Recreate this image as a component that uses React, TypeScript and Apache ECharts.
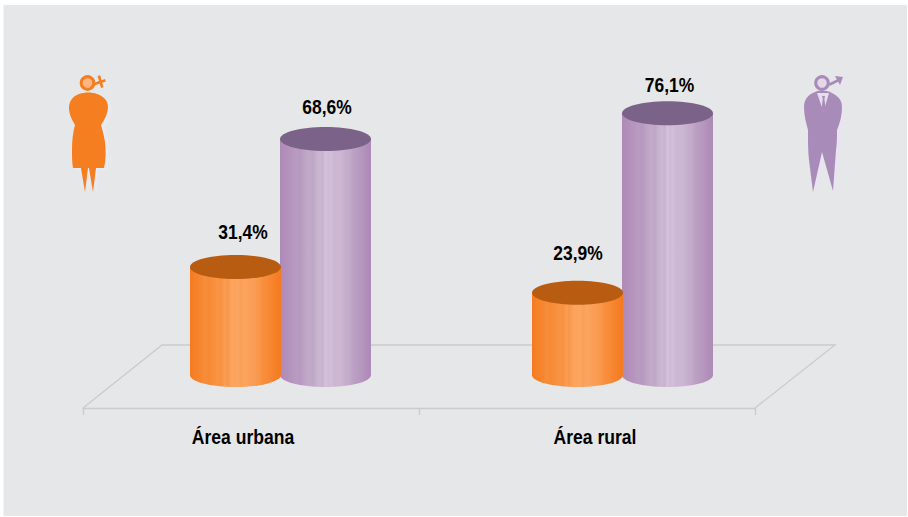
import React, { useEffect, useRef } from "react";
import * as echarts from "echarts";

const categories = ["Área urbana", "Área rural"];
const womenValues = [31.4, 23.9];
const menValues = [68.6, 76.1];
const womenLabels = ["31,4%", "23,9%"];
const menLabels = ["68,6%", "76,1%"];

const FONT = '"Liberation Sans", Arial, sans-serif';
const RX = 45.5;
const RY = 12;

const orangeStops = [
  [0, "#f47a1f"], [0.06, "#f5822a"], [0.12, "#f68630"], [0.16, "#f78d3a"], [0.2, "#f68a35"], [0.26, "#f78f3d"],
  [0.3, "#f89444"], [0.34, "#f89141"], [0.38, "#fa9d52"], [0.41, "#f9964a"], [0.44, "#fb9f56"], [0.47, "#fca560"],
  [0.5, "#fba35c"], [0.53, "#fca662"], [0.56, "#fa9e55"], [0.6, "#fba45e"], [0.66, "#fb9f58"], [0.7, "#fa9d56"],
  [0.76, "#f99748"], [0.8, "#f88f3e"], [0.86, "#f78a35"], [0.92, "#f6822a"], [1, "#f47a1f"],
];
const purpleStops = [
  [0, "#ae8bb7"], [0.06, "#b28fbb"], [0.12, "#b594bd"], [0.18, "#b99bc1"], [0.22, "#b798bf"], [0.28, "#bea5c6"],
  [0.32, "#c2abc9"], [0.36, "#bfa6c7"], [0.4, "#c7b2ce"], [0.44, "#cbb8d2"], [0.47, "#c8b3cf"], [0.5, "#d4c1da"],
  [0.53, "#cfbbd5"], [0.56, "#d2bed8"], [0.6, "#ccb6d2"], [0.66, "#cdb8d3"], [0.72, "#c5afcc"], [0.77, "#c2aac9"],
  [0.8, "#bca1c4"], [0.84, "#b99dc1"], [0.9, "#b596be"], [0.95, "#b08eb9"], [1, "#ae8bb7"],
];

const womanBody =
  "M79 94C73 96 69 101 69 108C69 114 72 120 75 125C73 132 72 140 72 150C72 157 72 163 73 168L81 168L85 192L88 168L89 168L93 192L96 168L104 168C106 160 106 150 105 142C104 135 102 129 101 125C105 119 108 113 108 107C108 100 103 96 97 94C92 92 85 92 79 94Z";
const manBody =
  "M815 92C809 94 804 99 804 107C804 115 806 123 808 130C808 142 808 150 809 160L813 192L822 152L833 191L836 150C837 143 837 137 837 130C840 123 842 115 842 107C842 100 838 96 832 93C826 90 820 90 815 92Z";
const manShirt = "M817 93L829 93L823.5 112Z";
const manTie = "M822 96L825 96L824.4 99L825.6 108L823.5 112L821.6 108L822.8 99Z";
const womanSymbol = "M92.5 83.5L99 81L97.6 76L100.2 75.3L101.5 80.2L105 79L105.8 81.4L102.2 82.7L103.6 87.2L101 87.9L99.7 83.5L93.5 86Z";
const manSymbol = "M828.5 83.5L836.8 79.6L835 76L843 77L840 85L838.2 81.8L829.8 86Z";

echarts.graphic.registerShape("womanBody", echarts.graphic.extendPath(womanBody, {}));
echarts.graphic.registerShape("manBody", echarts.graphic.extendPath(manBody, {}));
echarts.graphic.registerShape("manShirt", echarts.graphic.extendPath(manShirt, {}));
echarts.graphic.registerShape("manTie", echarts.graphic.extendPath(manTie, {}));
echarts.graphic.registerShape("womanSymbol", echarts.graphic.extendPath(womanSymbol, {}));
echarts.graphic.registerShape("manSymbol", echarts.graphic.extendPath(manSymbol, {}));

function cylinder(
  params: any,
  api: any,
  dx: number,
  stops: number[][],
  topColor: string,
  labels: string[],
  labelOffsets: number[][],
) {
  const i = params.dataIndex;
  const top = api.coord([api.value(0), api.value(1)]);
  const base = api.coord([api.value(0), 0]);
  const cx = top[0] + dx;
  const fill = new echarts.graphic.LinearGradient(
    0,
    0,
    1,
    0,
    stops.map(([offset, color]) => ({ offset, color })) as any,
  );
  return {
    type: "group",
    children: [
      { type: "rect", shape: { x: cx - RX, y: top[1], width: RX * 2, height: base[1] - top[1] }, style: { fill } },
      { type: "ellipse", shape: { cx, cy: base[1], rx: RX, ry: RY }, style: { fill } },
      { type: "ellipse", shape: { cx, cy: top[1], rx: RX, ry: RY }, style: { fill: topColor } },
      {
        type: "text",
        x: cx + labelOffsets[i][0],
        y: top[1] + labelOffsets[i][1],
        scaleX: 0.83,
        style: {
          text: labels[i],
          fill: "#000",
          font: `bold 21px ${FONT}`,
          align: "center",
          verticalAlign: "middle",
        },
      },
    ],
  };
}

export default function App() {
  const ref = useRef<HTMLDivElement>(null);
  useEffect(() => {
    const chart = echarts.init(ref.current!, null, { renderer: "svg" });
    chart.setOption({
      animation: false,
      backgroundColor: "#ffffff",
      grid: [
        { left: 109, top: 31, width: 684, height: 344 },
        { left: 83, top: 345, width: 672, height: 63 },
      ],
      xAxis: [
        { type: "category", gridIndex: 0, data: categories, show: false },
        {
          type: "category",
          gridIndex: 1,
          data: categories,
          axisLine: { show: true, lineStyle: { color: "#cbcbcb", width: 1.3 } },
          axisTick: { show: true, length: 7, lineStyle: { color: "#cbcbcb", width: 1.3 } },
          axisLabel: { show: false },
        },
      ],
      yAxis: [
        { type: "value", gridIndex: 0, min: 0, max: 100, show: false },
        { type: "value", gridIndex: 1, min: 0, max: 100, show: false },
      ],
      graphic: [
        { type: "rect", z: -10, shape: { x: 3.5, y: 5, width: 903.5, height: 511 }, style: { fill: "#e6e7e8" } },
        {
          type: "polyline",
          z: 0,
          shape: { points: [[83, 408], [162, 345], [835, 345], [755, 408]] },
          style: { fill: "none", stroke: "#cbcbcb", lineWidth: 1.3 },
        },
        { type: "womanBody", z: 0, x: 3.5, y: 2, style: { fill: "#e9e9f2" } },
        { type: "womanSymbol", z: 0, x: 3.5, y: 2, style: { fill: "#e9e9f2" } },
        { type: "womanBody", z: 1, style: { fill: "#f47e20" } },
        { type: "circle", z: 1, shape: { cx: 87.5, cy: 83, r: 6.3 }, style: { fill: "#fdb684", stroke: "#f47e20", lineWidth: 3 } },
        { type: "womanSymbol", z: 1, style: { fill: "#f47e20" } },
        { type: "manBody", z: 0, x: 4, y: 2, style: { fill: "#e8e4f0" } },
        { type: "manSymbol", z: 0, x: 4, y: 2, style: { fill: "#e8e4f0" } },
        { type: "manBody", z: 1, style: { fill: "#a98bb9" } },
        { type: "manShirt", z: 1, style: { fill: "#e6deec" } },
        { type: "manTie", z: 1, style: { fill: "#a98bb9" } },
        { type: "circle", z: 1, shape: { cx: 822, cy: 83, r: 6.3 }, style: { fill: "#e2d8e8", stroke: "#a98bb9", lineWidth: 3 } },
        { type: "manSymbol", z: 1, style: { fill: "#a98bb9" } },
      ],
      series: [
        {
          type: "custom",
          name: "Homens",
          xAxisIndex: 0,
          yAxisIndex: 0,
          clip: false,
          data: categories.map((c, i) => [i, menValues[i]]),
          renderItem: (p: any, a: any) => cylinder(p, a, 45.5, purpleStops, "#7b6289", menLabels, [[1.5, -32], [2, -28]]),
        },
        {
          type: "custom",
          name: "Mulheres",
          xAxisIndex: 0,
          yAxisIndex: 0,
          clip: false,
          data: categories.map((c, i) => [i, womenValues[i]]),
          renderItem: (p: any, a: any) => cylinder(p, a, -44.5, orangeStops, "#b85c12", womenLabels, [[7.5, -35], [0.5, -40]]),
        },
        {
          type: "custom",
          name: "Categorias",
          xAxisIndex: 1,
          yAxisIndex: 1,
          clip: false,
          data: categories.map((c, i) => [i, 0]),
          renderItem: (p: any, a: any) => {
            const pt = a.coord([a.value(0), 0]);
            const shift = p.dataIndex === 0 ? -8 : 8;
            return {
              type: "text",
              x: pt[0] + shift,
              y: pt[1] + 29,
              scaleX: 0.9,
              style: {
                text: categories[p.dataIndex],
                fill: "#000",
                font: `bold 19.5px ${FONT}`,
                align: "center",
                verticalAlign: "middle",
              },
            };
          },
        },
      ],
    });
    return () => chart.dispose();
  }, []);
  return <div ref={ref} style={{ position: "absolute", left: 0, top: 0, width: 908, height: 517 }} />;
}
